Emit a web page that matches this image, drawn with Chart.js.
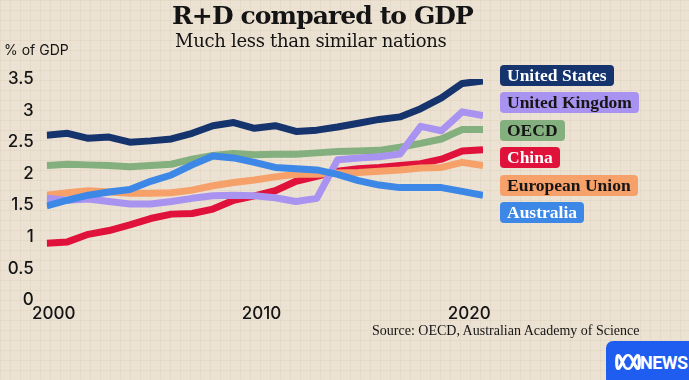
<!DOCTYPE html>
<html><head><meta charset="utf-8">
<script src="https://cdn.jsdelivr.net/npm/chart.js@4.4.1/dist/chart.umd.min.js"></script>
<style>
html,body{margin:0;padding:0;}
body{width:689px;height:380px;overflow:hidden;position:relative;background-color:#ece2d3;
background-image:linear-gradient(rgba(175,145,105,0.10) 1px, transparent 1px),linear-gradient(90deg, rgba(175,145,105,0.10) 1px, transparent 1px);background-size:10px 10px;}
canvas{position:absolute;left:0;top:0;}
.t{position:absolute;white-space:nowrap;color:#141414;line-height:1;}
#title{font-family:"DejaVu Serif";font-weight:bold;font-size:25px;left:0;width:645px;text-align:center;top:3px;letter-spacing:-0.9px;}
#sub{font-family:"DejaVu Serif";font-size:18px;left:175px;top:32px;letter-spacing:-0.3px;}
#unit{font-family:"Inter";font-size:14px;left:4px;top:43px;}
#source{font-family:"Liberation Serif";font-size:14px;left:372px;top:324px;}
#legend{position:absolute;left:500px;top:65px;}
.lg{position:absolute;left:0;height:21px;line-height:21px;padding:0 7px;border-radius:4px;font-family:"Liberation Serif";font-weight:bold;font-size:17.5px;white-space:nowrap;}
#logo{position:absolute;left:606px;top:341px;width:90px;height:45px;background:#1f5cf0;border-radius:7px;}
#logo span{position:absolute;left:34px;top:11px;font-family:"Roboto";font-weight:bold;font-size:18px;color:#fff;letter-spacing:-0.5px;}
#logo svg{position:absolute;left:9px;top:13px;}
</style></head>
<body>
<canvas id="c" width="689" height="380"></canvas>
<div class="t" id="title">R+D compared to GDP</div>
<div class="t" id="sub">Much less than similar nations</div>
<div class="t" id="unit">% of GDP</div>
<div class="t" id="source">Source: OECD, Australian Academy of Science</div>
<div id="legend"></div>
<div id="logo"><svg width="26" height="16" viewBox="-1.15 -1.15 2.3 2.3" preserveAspectRatio="none"><path id="liss" fill="none" stroke="#fff" stroke-width="0.28"/></svg><span>NEWS</span></div>
<script>
const years = [2000,2001,2002,2003,2004,2005,2006,2007,2008,2009,2010,2011,2012,2013,2014,2015,2016,2017,2018,2019,2020,2021];
const unitedStates  = [2.61,2.64,2.56,2.58,2.50,2.52,2.55,2.64,2.76,2.81,2.72,2.76,2.67,2.69,2.74,2.80,2.86,2.90,3.03,3.20,3.43,3.47];
const unitedKingdom = [1.61,1.58,1.60,1.56,1.52,1.52,1.56,1.61,1.65,1.66,1.65,1.62,1.56,1.61,2.22,2.25,2.27,2.31,2.75,2.68,2.98,2.92];
const oecd          = [2.13,2.15,2.14,2.13,2.11,2.13,2.15,2.23,2.29,2.32,2.30,2.31,2.31,2.33,2.35,2.36,2.37,2.42,2.48,2.55,2.70,2.70];
const china         = [0.90,0.92,1.04,1.10,1.19,1.29,1.36,1.37,1.44,1.58,1.65,1.73,1.88,1.96,2.04,2.08,2.10,2.13,2.16,2.23,2.36,2.38];
const europeanUnion = [1.66,1.70,1.73,1.71,1.69,1.69,1.70,1.74,1.81,1.86,1.90,1.95,1.99,1.99,2.01,2.02,2.04,2.06,2.09,2.10,2.18,2.13];
const australia     = [1.49,1.58,1.66,1.71,1.75,1.88,1.98,2.14,2.28,2.25,2.18,2.10,2.08,2.06,1.99,1.89,1.82,1.78,1.78,1.78,1.72,1.66];
const xTickLabels = [2000,2010,2020];
const yTickLabels = [0,0.5,1,1.5,2,2.5,3,3.5];

const series = [
  {label:'United States',  values:unitedStates,  color:'#15336c', text:'#ffffff', order:2},
  {label:'United Kingdom', values:unitedKingdom, color:'#a993f0', text:'#161616', order:1},
  {label:'OECD',           values:oecd,          color:'#83b07e', text:'#161616', order:3},
  {label:'China',          values:china,         color:'#e0113a', text:'#ffffff', order:5},
  {label:'European Union', values:europeanUnion, color:'#f6a06a', text:'#161616', order:4},
  {label:'Australia',      values:australia,     color:'#3d88e6', text:'#ffffff', order:0}
];

const tickFont = {family:'Inter', size:17, weight:'500'};
const chart = new Chart(document.getElementById('c'), {
  type:'line',
  data:{datasets: series.map(s=>({
    label:s.label, order:s.order,
    data: years.map((yr,i)=>({x:yr, y:s.values[i]})),
    borderColor:s.color, backgroundColor:s.color, borderWidth:7,
    pointRadius:0, tension:0, borderJoinStyle:'round', borderCapStyle:'butt', fill:false
  }))},
  options:{
    responsive:false, animation:false, devicePixelRatio:1,
    layout:{padding:{left:0, right:206, top:79, bottom:55}},
    plugins:{legend:{display:false}, tooltip:{enabled:false}, title:{display:false}},
    scales:{
      x:{type:'linear', min:2000, max:2021,
        grid:{display:false, drawTicks:false}, border:{display:false},
        afterBuildTicks:s=>{s.ticks = xTickLabels.map(v=>({value:v}));},
        afterFit:s=>{s.height = 25;},
        ticks:{font:tickFont, color:'#141414', padding:4, labelOffset:7, maxRotation:0, autoSkip:false, callback:v=>String(v)}},
      y:{min:0, max:3.5,
        grid:{display:false, drawTicks:false}, border:{display:false},
        afterBuildTicks:s=>{s.ticks = yTickLabels.map(v=>({value:v}));},
        afterFit:s=>{s.width = 46.7;},
        ticks:{font:tickFont, color:'#141414', padding:13, callback:v=>String(v)}}
    }
  }
});

// legend built from datasets
const lg = document.getElementById('legend');
chart.data.datasets.forEach((d,i)=>{
  const el = document.createElement('div');
  el.className='lg'; el.textContent=d.label;
  el.style.top = (i*27.4)+'px';
  el.style.background = d.borderColor;
  el.style.color = series[i].text;
  lg.appendChild(el);
});

// ABC logo lissajous
let p='';
for(let k=0;k<=200;k++){const t=k/200*2*Math.PI;const x=Math.sin(t);const y=Math.cos(3*t);p+=(k?'L':'M')+x.toFixed(3)+' '+y.toFixed(3);}
document.getElementById('liss').setAttribute('d',p);
</script>
</body></html>
